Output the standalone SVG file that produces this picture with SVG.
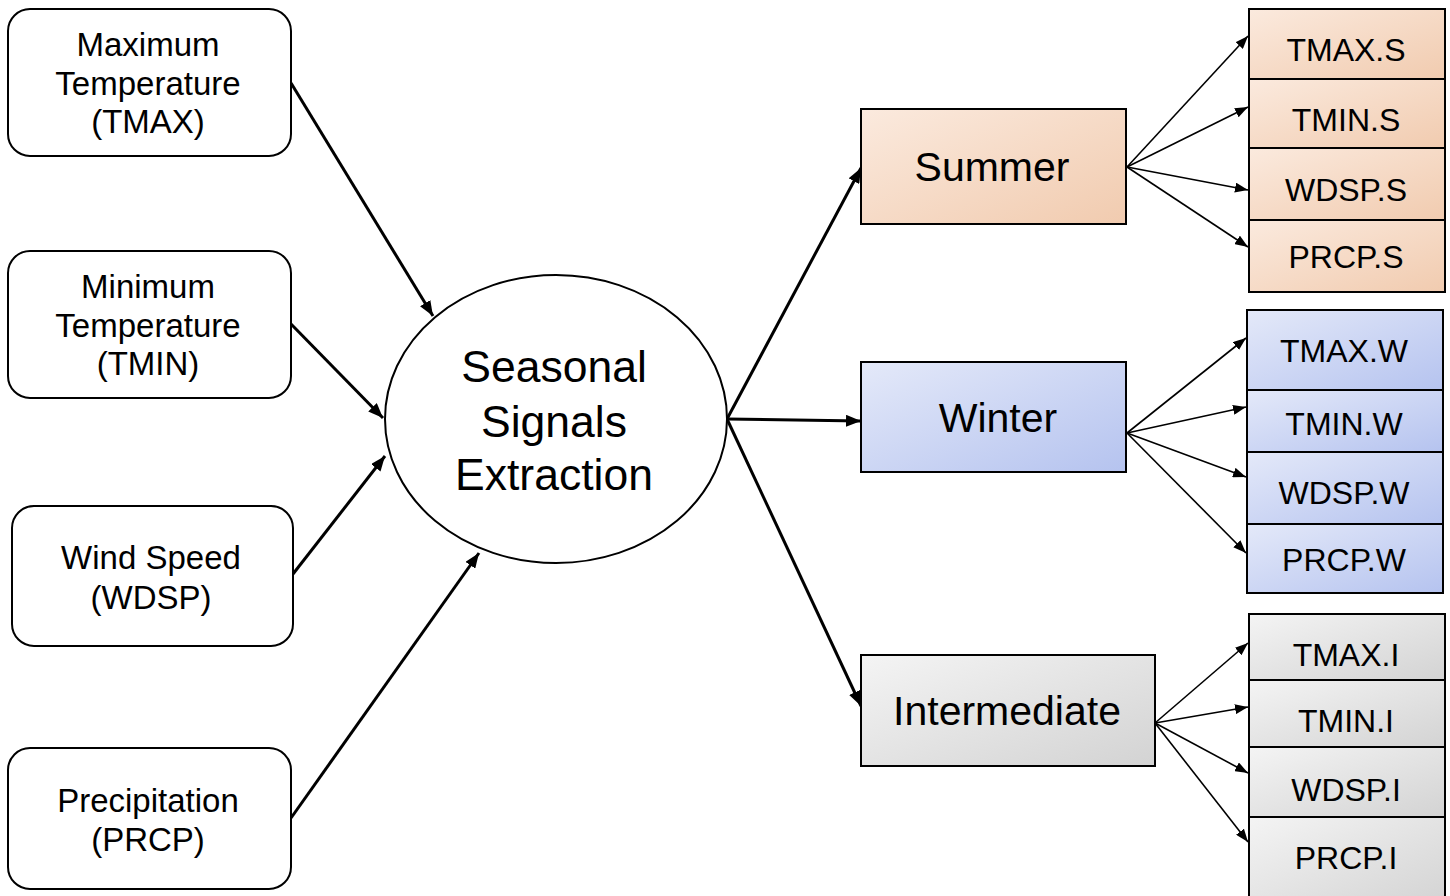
<svg xmlns="http://www.w3.org/2000/svg" width="1450" height="896" viewBox="0 0 1450 896">
<style>
.src{fill:#fff;stroke:#000;stroke-width:2}
.box{stroke:#000;stroke-width:2}
.t{font-family:"Liberation Sans",Arial,sans-serif;fill:#000;text-anchor:middle}
.t32{font-size:33px}
.t31{font-size:32px}
.t40{font-size:41px}
.t44{font-size:44.5px}
.main{stroke:#000;stroke-width:3;fill:none;marker-end:url(#ahB)}
.thin{stroke:#000;stroke-width:1.6;fill:none;marker-end:url(#ahS)}
</style>
<defs>
<linearGradient id="gS" x1="0" y1="0" x2="1" y2="1"><stop offset="0" stop-color="#fbeade"/><stop offset="1" stop-color="#f1cbaf"/></linearGradient>
<linearGradient id="gW" x1="0" y1="0" x2="1" y2="1"><stop offset="0" stop-color="#e4e9f9"/><stop offset="1" stop-color="#b5c3ef"/></linearGradient>
<linearGradient id="gI" x1="0" y1="0" x2="1" y2="1"><stop offset="0" stop-color="#f4f4f4"/><stop offset="1" stop-color="#d3d3d3"/></linearGradient>
<marker id="ahB" markerUnits="userSpaceOnUse" markerWidth="16" markerHeight="12" refX="15" refY="6" orient="auto"><path d="M0,0 L15,6 L0,12 Z" fill="#000"/></marker>
<marker id="ahS" markerUnits="userSpaceOnUse" markerWidth="14" markerHeight="10" refX="13" refY="5" orient="auto"><path d="M0,0 L13,5 L0,10 Z" fill="#000"/></marker>
</defs>
<g id="connectors">
<line class="main" x1="291" y1="83" x2="433" y2="316"/>
<line class="main" x1="291" y1="324" x2="383" y2="418"/>
<line class="main" x1="293" y1="574" x2="385" y2="456"/>
<line class="main" x1="291" y1="818" x2="479" y2="553"/>
<line class="main" x1="727" y1="419" x2="861" y2="168"/>
<line class="main" x1="727" y1="419" x2="861" y2="421"/>
<line class="main" x1="727" y1="419" x2="861" y2="706"/>
<line class="thin" x1="1127" y1="167" x2="1248" y2="36"/>
<line class="thin" x1="1127" y1="167" x2="1248" y2="107"/>
<line class="thin" x1="1127" y1="167" x2="1248" y2="190"/>
<line class="thin" x1="1127" y1="167" x2="1248" y2="247"/>
<line class="thin" x1="1127" y1="433" x2="1246" y2="338"/>
<line class="thin" x1="1127" y1="433" x2="1246" y2="407"/>
<line class="thin" x1="1127" y1="433" x2="1246" y2="477"/>
<line class="thin" x1="1127" y1="433" x2="1246" y2="553"/>
<line class="thin" x1="1155" y1="723" x2="1248" y2="643"/>
<line class="thin" x1="1155" y1="723" x2="1248" y2="707"/>
<line class="thin" x1="1155" y1="723" x2="1248" y2="773"/>
<line class="thin" x1="1155" y1="723" x2="1248" y2="842"/>
</g>
<g id="tmax">
<rect class="src" x="8" y="9" width="283" height="147" rx="22"/>
<text class="t t32" x="148" y="56">Maximum</text>
<text class="t t32" x="148" y="95">Temperature</text>
<text class="t t32" x="148" y="133">(TMAX)</text>
</g>
<g id="tmin">
<rect class="src" x="8" y="251" width="283" height="147" rx="22"/>
<text class="t t32" x="148" y="298">Minimum</text>
<text class="t t32" x="148" y="337">Temperature</text>
<text class="t t32" x="148" y="375">(TMIN)</text>
</g>
<g id="wdsp">
<rect class="src" x="12" y="506" width="281" height="140" rx="22"/>
<text class="t t32" x="151" y="569">Wind Speed</text>
<text class="t t32" x="151" y="609">(WDSP)</text>
</g>
<g id="prcp">
<rect class="src" x="8" y="748" width="283" height="141" rx="22"/>
<text class="t t32" x="148" y="812">Precipitation</text>
<text class="t t32" x="148" y="851">(PRCP)</text>
</g>
<g id="extraction">
<ellipse cx="556" cy="419" rx="171" ry="144" fill="#fff" stroke="#000" stroke-width="2"/>
<text class="t t44" x="554" y="382">Seasonal</text>
<text class="t t44" x="554" y="437">Signals</text>
<text class="t t44" x="554" y="490">Extraction</text>
</g>
<g id="summer">
<rect class="box" x="861" y="109" width="265" height="115" fill="url(#gS)"/>
<text class="t t40" x="992" y="181">Summer</text>
</g>
<g id="winter">
<rect class="box" x="861" y="362" width="265" height="110" fill="url(#gW)"/>
<text class="t t40" x="998" y="432">Winter</text>
</g>
<g id="intermediate">
<rect class="box" x="861" y="655" width="294" height="111" fill="url(#gI)"/>
<text class="t t40" x="1007" y="725">Intermediate</text>
</g>
<g id="summer-vars">
<rect class="box" x="1249" y="9" width="196" height="70" fill="url(#gS)"/>
<rect class="box" x="1249" y="79" width="196" height="69" fill="url(#gS)"/>
<rect class="box" x="1249" y="148" width="196" height="72" fill="url(#gS)"/>
<rect class="box" x="1249" y="220" width="196" height="72" fill="url(#gS)"/>
<text class="t t31" x="1346" y="61">TMAX.S</text>
<text class="t t31" x="1346" y="131">TMIN.S</text>
<text class="t t31" x="1346" y="201">WDSP.S</text>
<text class="t t31" x="1346" y="268">PRCP.S</text>
</g>
<g id="winter-vars">
<rect class="box" x="1247" y="310" width="196" height="80" fill="url(#gW)"/>
<rect class="box" x="1247" y="390" width="196" height="62" fill="url(#gW)"/>
<rect class="box" x="1247" y="452" width="196" height="72" fill="url(#gW)"/>
<rect class="box" x="1247" y="524" width="196" height="69" fill="url(#gW)"/>
<text class="t t31" x="1344" y="362">TMAX.W</text>
<text class="t t31" x="1344" y="435">TMIN.W</text>
<text class="t t31" x="1344" y="504">WDSP.W</text>
<text class="t t31" x="1344" y="571">PRCP.W</text>
</g>
<g id="intermediate-vars">
<rect class="box" x="1249" y="614" width="196" height="66" fill="url(#gI)"/>
<rect class="box" x="1249" y="680" width="196" height="67" fill="url(#gI)"/>
<rect class="box" x="1249" y="747" width="196" height="70" fill="url(#gI)"/>
<rect class="box" x="1249" y="817" width="196" height="90" fill="url(#gI)"/>
<text class="t t31" x="1346" y="666">TMAX.I</text>
<text class="t t31" x="1346" y="732">TMIN.I</text>
<text class="t t31" x="1346" y="801">WDSP.I</text>
<text class="t t31" x="1346" y="869">PRCP.I</text>
</g>
</svg>
